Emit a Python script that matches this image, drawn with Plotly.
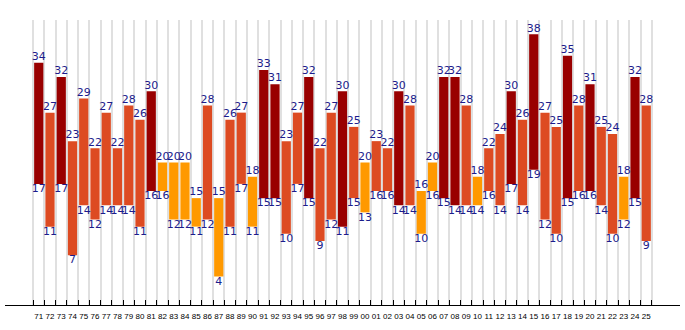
import plotly.graph_objects as go

# Seasons 1971-2025, two-digit labels
years = ["71", "72", "73", "74", "75", "76", "77", "78", "79", "80",
         "81", "82", "83", "84", "85", "86", "87", "88", "89", "90",
         "91", "92", "93", "94", "95", "96", "97", "98", "99", "00",
         "01", "02", "03", "04", "05", "06", "07", "08", "09", "10",
         "11", "12", "13", "14", "15", "16", "17", "18", "19", "20",
         "21", "22", "23", "24", "25"]

# Upper value of each range bar
high = [34, 27, 32, 23, 29, 22, 27, 22, 28, 26,
        30, 20, 20, 20, 15, 28, 15, 26, 27, 18,
        33, 31, 23, 27, 32, 22, 27, 30, 25, 20,
        23, 22, 30, 28, 16, 20, 32, 32, 28, 18,
        22, 24, 30, 26, 38, 27, 25, 35, 28, 31,
        25, 24, 18, 32, 28]

# Lower value of each range bar
low = [17, 11, 17, 7, 14, 12, 14, 14, 14, 11,
       16, 16, 12, 12, 11, 12, 4, 11, 17, 11,
       15, 15, 10, 17, 15, 9, 12, 11, 15, 13,
       16, 16, 14, 14, 10, 16, 15, 14, 14, 14,
       16, 14, 17, 14, 19, 12, 10, 15, 16, 16,
       14, 10, 12, 15, 9]


def bar_color(v):
    if v >= 30:
        return "#990000"
    if v > 20:
        return "#DD4B22"
    return "#FF9900"


colors = [bar_color(v) for v in high]
spans = [h - l for h, l in zip(high, low)]
label_font = dict(family="DejaVu Sans", size=11, color="#1c1c8c")

fig = go.Figure()
fig.add_trace(go.Bar(
    x=years, y=spans, base=low,
    marker=dict(color=colors, line=dict(width=0)),
    hoverinfo="skip", showlegend=False,
))
fig.add_trace(go.Scatter(
    x=years, y=high, mode="text", text=[str(v) for v in high],
    textposition="top center", textfont=label_font,
    cliponaxis=False, showlegend=False, hoverinfo="skip",
))
fig.add_trace(go.Scatter(
    x=years, y=low, mode="text", text=[str(v) for v in low],
    textposition="bottom center", textfont=label_font,
    cliponaxis=False, showlegend=False, hoverinfo="skip",
))

fig.update_layout(
    width=685, height=330,
    margin=dict(l=5, r=5, t=20, b=25),
    paper_bgcolor="white", plot_bgcolor="white",
    bargap=0.18,
    xaxis=dict(
        type="category", categoryorder="array", categoryarray=years,
        tickson="boundaries", ticks="inside", ticklen=5, tickcolor="black",
        tickangle=0, ticklabelstandoff=3,
        showline=True, linecolor="black", linewidth=1,
        showgrid=True, gridcolor="#e0e0e0", gridwidth=1.5,
        tickfont=dict(family="Liberation Sans", size=8, color="black"),
        fixedrange=True,
    ),
    yaxis=dict(
        range=[0, 40], showgrid=False, zeroline=False,
        showticklabels=False, visible=False, fixedrange=True,
    ),
)

fig.write_html("out.html")
